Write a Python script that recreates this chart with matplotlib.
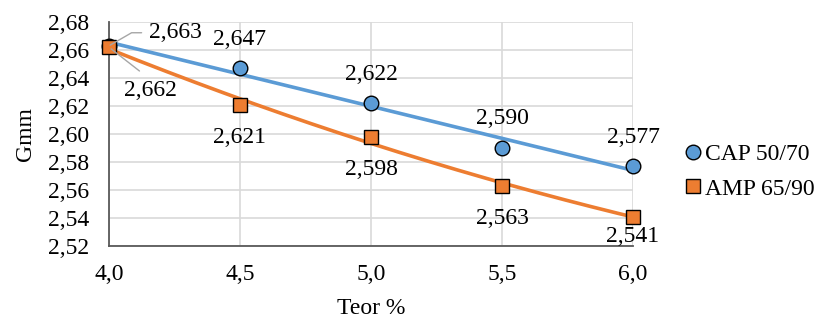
import numpy as np
import matplotlib
matplotlib.use("Agg")
import matplotlib.pyplot as plt

plt.rcParams['font.family'] = ['Liberation Serif', 'DejaVu Serif']

teor = [4.0, 4.5, 5.0, 5.5, 6.0]
cap_5070 = [2.663, 2.647, 2.622, 2.590, 2.577]
amp_6590 = [2.662, 2.621, 2.598, 2.563, 2.541]
x_ticks = [4.0, 4.5, 5.0, 5.5, 6.0]
y_ticks = [2.52, 2.54, 2.56, 2.58, 2.60, 2.62, 2.64, 2.66, 2.68]

blue = '#5B9BD5'
orange = '#ED7D31'
lead = '#a6a6a6'

fig = plt.figure(figsize=(8.19, 3.24), dpi=100)
ax = fig.add_axes([109/819, 1 - 246/324, (633 - 109)/819, (246 - 22)/324])

# trend lines: linear for CAP, quadratic for AMP
xs = np.linspace(4.0, 6.0, 200)
pc = np.polyfit(teor, cap_5070, 1)
pa = np.polyfit(teor, amp_6590, 2)
ax.plot(xs, np.polyval(pc, xs), color=blue, lw=2.6, zorder=3, solid_capstyle='round')
ax.plot(xs, np.polyval(pa, xs), color=orange, lw=2.6, zorder=3, solid_capstyle='round')

ax.plot(teor, cap_5070, linestyle='none', marker='o', ms=10.5, mfc=blue,
        mec='black', mew=1.0, zorder=5, clip_on=False, label='CAP 50/70')
ax.plot(teor, amp_6590, linestyle='none', marker='s', ms=10, mfc=orange,
        mec='black', mew=1.0, zorder=6, clip_on=False, label='AMP 65/90')

fs = 17
fmt = lambda v: f"{v:.3f}".replace('.', ',')

# data labels: CAP above, AMP below, first pair moved aside with leader lines
for i, (x, y) in enumerate(zip(teor, cap_5070)):
    if i == 0:
        ax.annotate(fmt(y), xy=(x, y), xytext=(47.5, 9.4), textcoords='offset points',
                    fontsize=fs, ha='center', va='center', zorder=7,
                    arrowprops=dict(arrowstyle='-', color=lead, lw=1,
                                    shrinkA=3, shrinkB=1, relpos=(0, 0.5),
                                    connectionstyle='angle,angleA=0,angleB=30,rad=0'))
    else:
        ax.annotate(fmt(y), xy=(x, y), xytext=(0, 21), textcoords='offset points',
                    fontsize=fs, ha='center', va='center', zorder=7)
for i, (x, y) in enumerate(zip(teor, amp_6590)):
    if i == 0:
        ax.annotate(fmt(y), xy=(x, y), xytext=(30, -31), textcoords='offset points',
                    fontsize=fs, ha='center', va='center', zorder=7,
                    arrowprops=dict(arrowstyle='-', color=lead, lw=1,
                                    shrinkA=7, shrinkB=2, relpos=(0.5, 1)))
    else:
        dy = -14.4 if i == len(teor) - 1 else -23.5
        ax.annotate(fmt(y), xy=(x, y), xytext=(0, dy), textcoords='offset points',
                    fontsize=fs, ha='center', va='center', zorder=7)

ax.set_xlim(4.0, 6.0)
ax.set_ylim(2.52, 2.68)
ax.set_xticks(x_ticks)
ax.set_yticks(y_ticks)
ax.set_xticklabels([f"{v:.1f}".replace('.', ',') for v in x_ticks], fontsize=fs)
ax.set_yticklabels([f"{v:.2f}".replace('.', ',') for v in y_ticks], fontsize=fs)
ax.tick_params(axis='x', length=0, pad=13)
ax.tick_params(axis='y', length=0, pad=14.5)
ax.grid(True, color='#d9d9d9', lw=1.2, zorder=0)
ax.set_axisbelow(True)
for s in ['top', 'right']:
    ax.spines[s].set_visible(False)
for s in ['left', 'bottom']:
    ax.spines[s].set_color('#595959')
    ax.spines[s].set_linewidth(1.3)

ax.set_xlabel('Teor %', fontsize=fs, labelpad=9)
ax.set_ylabel('Gmm', fontsize=fs, labelpad=8)

ax.legend(loc='center left', bbox_to_anchor=(686/819, 1 - 171.5/324),
          bbox_transform=fig.transFigure, frameon=False, fontsize=fs,
          handlelength=0.6, handletextpad=0.2, labelspacing=0.55,
          borderpad=0, borderaxespad=0)

fig.savefig('out.png', dpi=100)
